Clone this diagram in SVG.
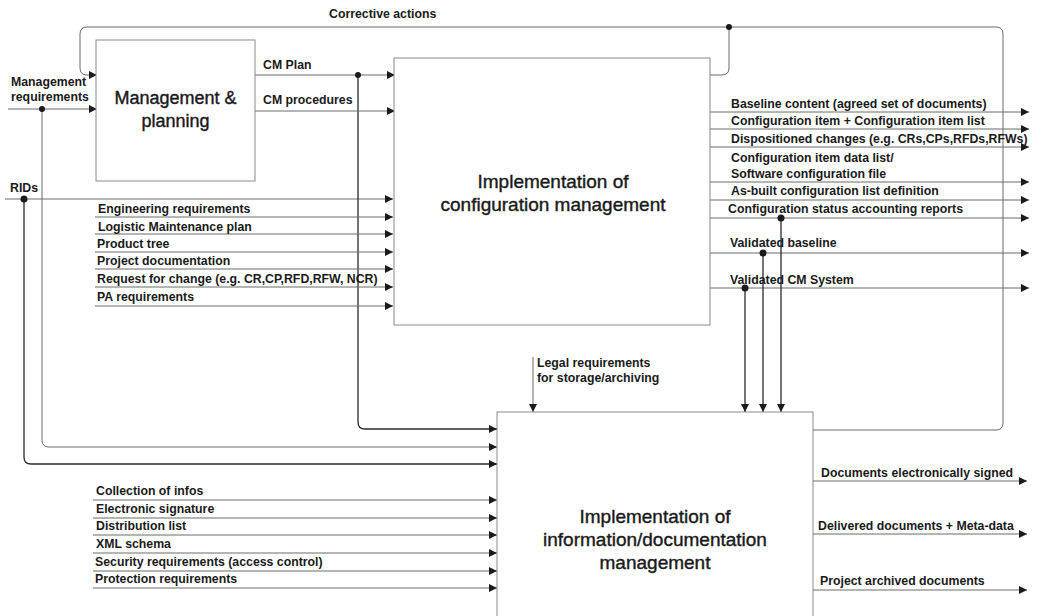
<svg xmlns="http://www.w3.org/2000/svg" width="1037" height="616" viewBox="0 0 1037 616">
  <style>
    .box { fill: #ffffff; stroke: #8a8a8a; stroke-width: 1; }
    .title { font-family: "Liberation Sans", Arial, sans-serif; font-size: 19px; fill: #1a1a1a; text-anchor: middle; stroke: #1a1a1a; stroke-width: 0.4; }
    .small { font-size: 18px; }
    .lbl { font-family: "Liberation Sans", Arial, sans-serif; font-size: 12.3px; font-weight: bold; fill: #1a1a1a; }
    .ln { fill: none; stroke: #6a6a6a; stroke-width: 1; }
    .dk { fill: none; stroke: #2a2a2a; stroke-width: 1.3; }
    .dot { fill: #1a1a1a; }
  </style>
  <defs>
    <marker id="arr" viewBox="0 0 10 10" refX="10" refY="5" markerWidth="9" markerHeight="8" markerUnits="userSpaceOnUse" orient="auto">
      <path d="M0,0 L10,5 L0,10 Z" fill="#1a1a1a"/>
    </marker>
  </defs>
  <rect width="1037" height="616" fill="#ffffff"/>

  <!-- connectors -->
  <g id="connectors">
    <!-- corrective actions feedback loop -->
    <path class="ln" d="M813,430 H996 Q1003,430 1003,423 V34 Q1003,27 996,27 H87 Q80,27 80,34 V68 Q80,75 87,75 H97" marker-end="url(#arr)"/>
    <path class="ln" d="M710,75 H722 Q729,75 729,68 V27"/>
    <circle class="dot" cx="729" cy="27" r="3"/>

    <!-- management requirements -->
    <path class="ln" d="M8,109 H97" marker-end="url(#arr)"/>
    <path class="ln" d="M42,109 V440 Q42,447 49,447 H497" marker-end="url(#arr)"/>
    <circle class="dot" cx="42" cy="109" r="3"/>

    <!-- RIDs -->
    <path class="ln" d="M5,199 H393" marker-end="url(#arr)"/>
    <path class="dk" d="M24,199 V457 Q24,464 31,464 H497" marker-end="url(#arr)"/>
    <circle class="dot" cx="24" cy="199" r="3.5"/>

    <!-- CM plan / CM procedures -->
    <path class="ln" d="M255,75 H395" marker-end="url(#arr)"/>
    <path class="dk" d="M358,75 V422 Q358,429 365,429 H497" marker-end="url(#arr)"/>
    <circle class="dot" cx="358" cy="75" r="3"/>
    <path class="ln" d="M255,111 H395" marker-end="url(#arr)"/>

    <!-- inputs to configuration management -->
    <path class="ln" d="M95,217 H393" marker-end="url(#arr)"/>
    <path class="ln" d="M95,234 H393" marker-end="url(#arr)"/>
    <path class="ln" d="M95,252 H393" marker-end="url(#arr)"/>
    <path class="ln" d="M95,269 H393" marker-end="url(#arr)"/>
    <path class="ln" d="M95,287 H393" marker-end="url(#arr)"/>
    <path class="ln" d="M95,306 H393" marker-end="url(#arr)"/>

    <!-- outputs of configuration management -->
    <path class="ln" d="M710,112 H1029" marker-end="url(#arr)"/>
    <path class="ln" d="M710,129 H1029" marker-end="url(#arr)"/>
    <path class="ln" d="M710,147 H1029" marker-end="url(#arr)"/>
    <path class="ln" d="M710,182 H1029" marker-end="url(#arr)"/>
    <path class="ln" d="M710,200 H1029" marker-end="url(#arr)"/>
    <path class="ln" d="M710,218 H1029" marker-end="url(#arr)"/>
    <path class="ln" d="M710,253 H1029" marker-end="url(#arr)"/>
    <path class="ln" d="M710,288 H1029" marker-end="url(#arr)"/>

    <!-- status / baseline / CM system down to documentation management -->
    <path class="dk" d="M781,218 V412" marker-end="url(#arr)"/>
    <path class="dk" d="M763,253 V412" marker-end="url(#arr)"/>
    <path class="dk" d="M745,288 V412" marker-end="url(#arr)"/>
    <circle class="dot" cx="781" cy="218" r="3.5"/>
    <circle class="dot" cx="763" cy="253" r="3.5"/>
    <circle class="dot" cx="745" cy="288" r="3.5"/>

    <!-- legal requirements -->
    <path class="ln" d="M533,357 V412" marker-end="url(#arr)"/>

    <!-- inputs to documentation management -->
    <path class="ln" d="M93,500 H497" marker-end="url(#arr)"/>
    <path class="ln" d="M93,518 H497" marker-end="url(#arr)"/>
    <path class="ln" d="M93,535 H497" marker-end="url(#arr)"/>
    <path class="ln" d="M93,553 H497" marker-end="url(#arr)"/>
    <path class="ln" d="M93,571 H497" marker-end="url(#arr)"/>
    <path class="ln" d="M93,588 H497" marker-end="url(#arr)"/>

    <!-- outputs of documentation management -->
    <path class="ln" d="M813,481 H1027" marker-end="url(#arr)"/>
    <path class="ln" d="M813,534 H1027" marker-end="url(#arr)"/>
    <path class="ln" d="M813,590 H1027" marker-end="url(#arr)"/>
  </g>

  <!-- nodes -->
  <g id="management-planning">
    <rect class="box" x="96" y="40" width="159" height="141"/>
    <text class="title small" x="175.5" y="104">Management &amp;</text>
    <text class="title small" x="175.5" y="127">planning</text>
  </g>

  <g id="configuration-management">
    <rect class="box" x="394" y="58" width="316" height="267"/>
    <text class="title" x="553" y="188">Implementation of</text>
    <text class="title" x="553" y="211">configuration management</text>
  </g>

  <g id="documentation-management">
    <rect class="box" x="497" y="412" width="316" height="210"/>
    <text class="title" x="655" y="523">Implementation of</text>
    <text class="title" x="655" y="546">information/documentation</text>
    <text class="title" x="655" y="569">management</text>
  </g>

  <!-- labels -->
  <g id="labels">
    <text class="lbl" x="329" y="18">Corrective actions</text>
    <text class="lbl" x="11" y="86">Management</text>
    <text class="lbl" x="11" y="101">requirements</text>
    <text class="lbl" x="263" y="69">CM Plan</text>
    <text class="lbl" x="263" y="104">CM procedures</text>
    <text class="lbl" x="10" y="192">RIDs</text>

    <text class="lbl" x="98" y="213">Engineering requirements</text>
    <text class="lbl" x="98" y="231">Logistic Maintenance plan</text>
    <text class="lbl" x="97" y="248">Product tree</text>
    <text class="lbl" x="97" y="265">Project documentation</text>
    <text class="lbl" x="97" y="283">Request for change (e.g. CR,CP,RFD,RFW, NCR)</text>
    <text class="lbl" x="97" y="301">PA requirements</text>

    <text class="lbl" x="731" y="108">Baseline content (agreed set of documents)</text>
    <text class="lbl" x="731" y="125">Configuration item + Configuration item list</text>
    <text class="lbl" x="731" y="143">Dispositioned changes (e.g. CRs,CPs,RFDs,RFWs)</text>
    <text class="lbl" x="731" y="162">Configuration item data list/</text>
    <text class="lbl" x="731" y="178">Software configuration file</text>
    <text class="lbl" x="731" y="195">As-built configuration list definition</text>
    <text class="lbl" x="728" y="213">Configuration status accounting reports</text>
    <text class="lbl" x="730" y="247">Validated baseline</text>
    <text class="lbl" x="730" y="284">Validated CM System</text>

    <text class="lbl" x="537" y="367">Legal requirements</text>
    <text class="lbl" x="537" y="382">for storage/archiving</text>

    <text class="lbl" x="96" y="495">Collection of infos</text>
    <text class="lbl" x="96" y="513">Electronic signature</text>
    <text class="lbl" x="96" y="530">Distribution list</text>
    <text class="lbl" x="96" y="548">XML schema</text>
    <text class="lbl" x="95" y="566">Security requirements (access control)</text>
    <text class="lbl" x="95" y="583">Protection requirements</text>

    <text class="lbl" x="821" y="477">Documents electronically signed</text>
    <text class="lbl" x="818" y="530">Delivered documents + Meta-data</text>
    <text class="lbl" x="820" y="585">Project archived documents</text>
  </g>
</svg>
